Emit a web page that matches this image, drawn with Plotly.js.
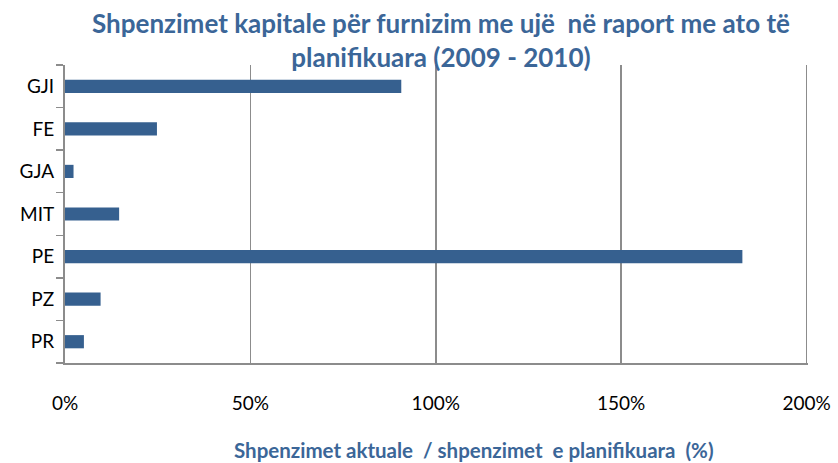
<!DOCTYPE html>
<html><head><meta charset="utf-8">
<script src="https://cdn.plot.ly/plotly-3.0.1.min.js"></script>
<style>html,body{margin:0;padding:0;background:#fff}#chart{width:838px;height:463px}</style>
</head><body><div id="chart"></div>
<script>
const categories = ["GJI", "FE", "GJA", "MIT", "PE", "PZ", "PR"];
const values = [90.7, 24.8, 2.3, 14.6, 182.7, 9.6, 5.1];
const xTicks = [0, 50, 100, 150, 200];
const xTickLabels = ["0%", "50%", "100%", "150%", "200%"];
const titleText = "Shpenzimet kapitale për furnizim me ujë  në raport me ato të<br>planifikuara (2009 - 2010)";
const xTitleText = "Shpenzimet aktuale  / shpenzimet  e planifikuara  (%)";

const font = "Lato, 'Open Sans', sans-serif";
const blue = "#3B6698";

Plotly.newPlot("chart", [{
  type: "bar",
  orientation: "h",
  y: categories,
  x: values,
  marker: {color: "#36608F", line: {width: 0}},
  hoverinfo: "none"
}], {
  width: 838, height: 463,
  margin: {l: 65, r: 30, t: 65, b: 100},
  paper_bgcolor: "#fff", plot_bgcolor: "#fff",
  bargap: 0.69,
  showlegend: false,
  font: {family: font, size: 19, color: "#000"},
  xaxis: {
    range: [0, 200.4], tickvals: xTicks, ticktext: xTickLabels,
    showgrid: true, gridcolor: "#8C8C8C", gridwidth: 1.5,
    zeroline: false, showline: true, linecolor: "#8C8C8C", linewidth: 2,
    ticks: "", ticklabelstandoff: 22,
    tickfont: {family: font, size: 19, color: "#000"},
    fixedrange: true
  },
  yaxis: {
    type: "category", categoryorder: "array", categoryarray: categories.slice().reverse(),
    showgrid: false, zeroline: false, showline: true, linecolor: "#8C8C8C", linewidth: 2,
    ticks: "outside", tickson: "boundaries", ticklen: 7, tickcolor: "#8C8C8C", tickwidth: 1.5,
    tickfont: {family: font, size: 19, color: "#000"},
    ticklabelstandoff: 5,
    fixedrange: true
  },
  annotations: [{
    text: titleText, xref: "paper", yref: "paper", x: 0.506, y: 1.085,
    xanchor: "center", yanchor: "middle", showarrow: false,
    font: {family: font, size: 26, color: blue, weight: "bold"}
  }, {
    text: xTitleText, xref: "paper", yref: "paper", x: 0.55, y: -0.292,
    xanchor: "center", yanchor: "middle", showarrow: false,
    font: {family: font, size: 20.5, color: blue, weight: "bold"}
  }]
}, {displayModeBar: false, staticPlot: true});
</script></body></html>
